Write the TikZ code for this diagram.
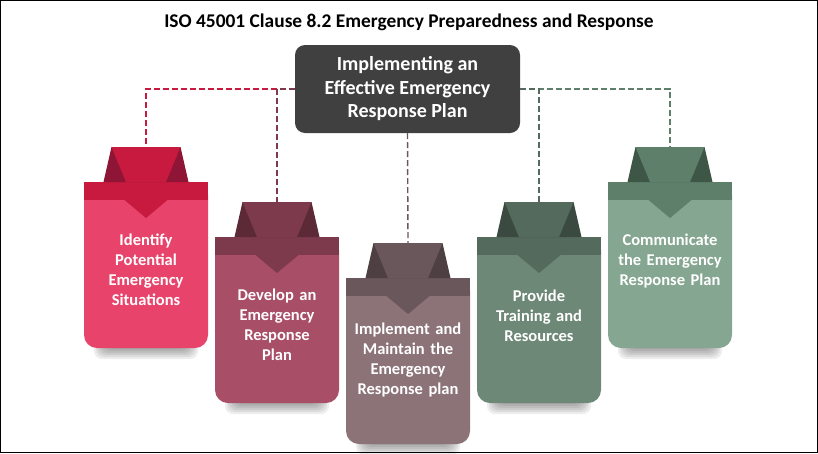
\documentclass[tikz,border=0pt]{standalone}
\usepackage{fontspec}
\setmainfont{Carlito}
\usepackage{tikz}
\usetikzlibrary{positioning}
\definecolor{hubgray}{HTML}{404040}
\definecolor{body1}{HTML}{E8436A}
\definecolor{band1}{HTML}{C8193F}
\definecolor{wing1}{HTML}{8E1535}
\definecolor{body2}{HTML}{A94E67}
\definecolor{band2}{HTML}{7D3A4D}
\definecolor{wing2}{HTML}{5C2A37}
\definecolor{body3}{HTML}{8B7378}
\definecolor{band3}{HTML}{6A575B}
\definecolor{wing3}{HTML}{4D3F42}
\definecolor{body4}{HTML}{6D8877}
\definecolor{band4}{HTML}{546A5C}
\definecolor{wing4}{HTML}{3B4A40}
\definecolor{body5}{HTML}{85A691}
\definecolor{band5}{HTML}{5E7F69}
\definecolor{wing5}{HTML}{3E5646}

\begin{document}
\begin{tikzpicture}[x=1pt,y=-1pt,
  hub/.style={fill=hubgray,rounded corners=10pt,minimum width=225pt,minimum height=88pt,align=center,text=white,font=\bfseries\fontsize{20}{23.5}\selectfont},
  cardtext/.style={align=center,text=white,text width=122pt,font=\bfseries\fontsize{16.5}{20}\selectfont},
  conn/.style={dash pattern=on 6pt off 3pt,line width=1.4pt}]
  \useasboundingbox (0,0) rectangle (818,453);
  \draw[line width=1pt] (0.5,0.5) rectangle (817.5,452.5);
  \node[font=\bfseries\fontsize{19.4}{22}\selectfont] (title) at (409,22) {ISO 45001 Clause 8.2 Emergency Preparedness and Response};
  % cards: number / centre x / top of band
  \foreach \n/\cx/\t in {1/146/182,2/277/237,3/408/278,4/539/237,5/670/182}{
    \foreach \k in {0,...,5}
      \fill[black,opacity=0.07,rounded corners=8pt] (\cx-52+2*\k,\t+150) rectangle (\cx+52-2*\k,\t+177-2*\k);
    \fill[body\n,rounded corners=13pt] (\cx-62,\t) rectangle (\cx+62,\t+166);
    \fill[band\n] (\cx-62,\t) rectangle (\cx+62,\t+18);
    \fill[wing\n] (\cx-34.5,\t-35) -- (\cx+34.5,\t-35) -- (\cx+42.5,\t) -- (\cx-42.5,\t) -- cycle;
    \fill[band\n] (\cx-34.5,\t-35) -- (\cx+34.5,\t-35) -- (\cx+20,\t) -- (\cx-20,\t) -- cycle;
    \fill[band\n] (\cx-37,\t+5) -- (\cx+37,\t+5) -- (\cx,\t+36) -- cycle;
    \coordinate (a\n) at (\cx,\t-35);
  }
  \node[cardtext] (t1) at (146,270) {Identify\\Potential\\Emergency\\Situations};
  \node[cardtext] (t2) at (277,325) {Develop an\\Emergency\\Response\\Plan};
  \node[cardtext] (t3) at (408,360) {Implement and\\Maintain the\\Emergency\\Response plan};
  \node[cardtext] (t4) at (539,316) {Provide\\Training and\\Resources};
  \node[cardtext] (t5) at (670,261) {Communicate\\the Emergency\\Response Plan};
  \node[hub] (hub) at (407.5,89) {Implementing an\\Effective Emergency\\Response Plan};
  \draw[conn,band1] (hub.west) -| (a1);
  \draw[conn,band2] (hub.west) -| (a2);
  \draw[conn,band3] (hub.south) -- (a3);
  \draw[conn,band5] (hub.east) -| (a5);
  \draw[conn,band4] (hub.east) -| (a4);
\end{tikzpicture}
\end{document}
